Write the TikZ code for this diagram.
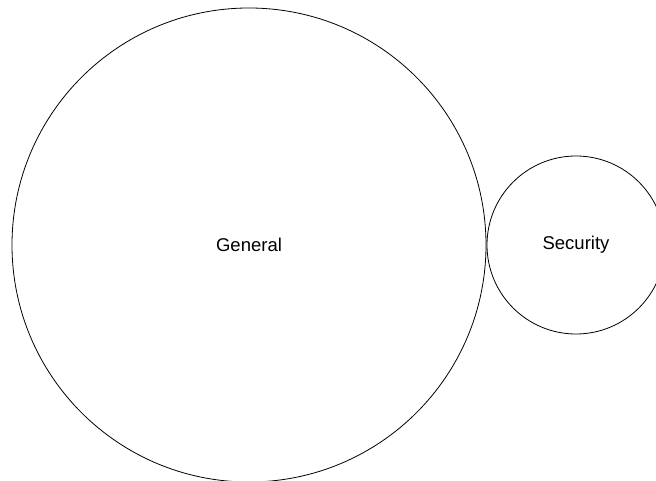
\documentclass[tikz,border=0pt]{standalone}
\usepackage{fontspec}
\setmainfont{Liberation Sans}
\usepackage{tikz}

\begin{document}
\begin{tikzpicture}[x=1pt,y=-1pt,
        area/.style={draw,circle,line width=0.8pt,inner sep=0pt,font=\fontsize{18.5}{22}\selectfont}]
    \useasboundingbox (0,0) rectangle (656,481);
    \begin{scope}
        \clip (0,0) rectangle (656,481);
        \node[area,minimum size=474pt] (general) at (249,245) {General};
        \node[area,minimum size=178pt] (security) at (576,245) {Security};
    \end{scope}
\end{tikzpicture}
\end{document}
